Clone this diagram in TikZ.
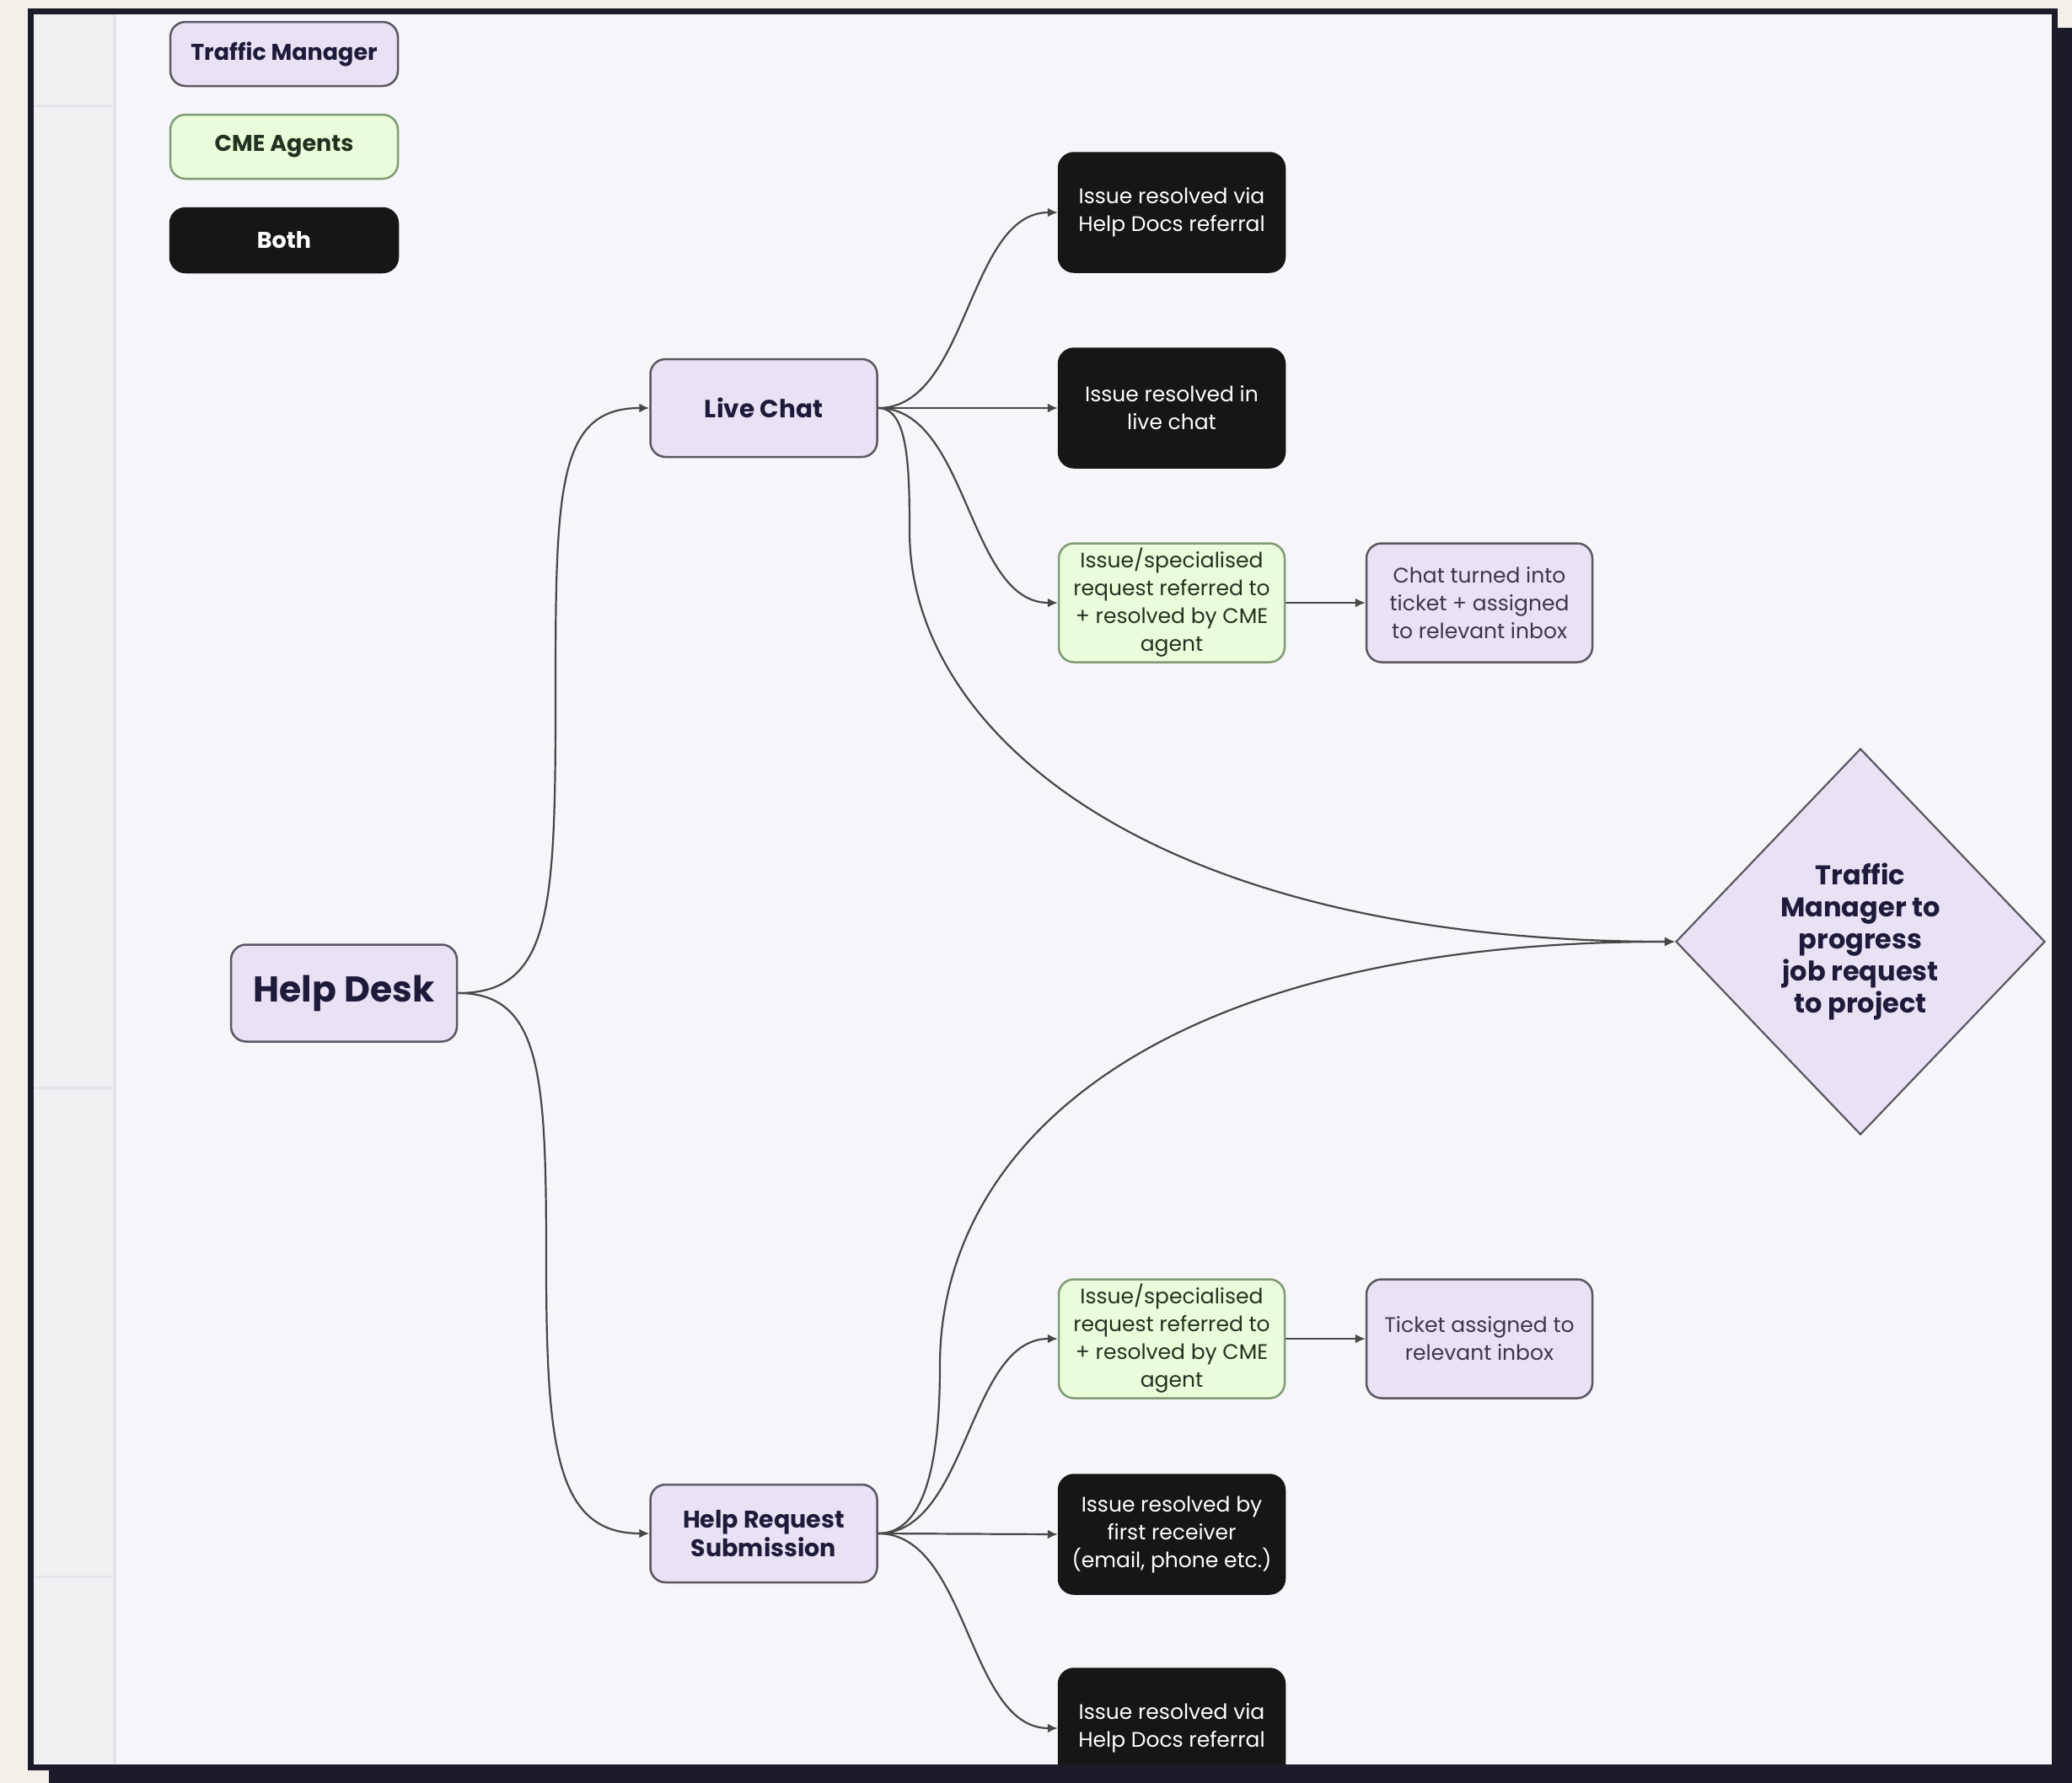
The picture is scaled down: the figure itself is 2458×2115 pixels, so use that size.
\documentclass[tikz,border=0pt]{standalone}
\usepackage{fontspec}
\setmainfont{Poppins}
\usetikzlibrary{shapes.geometric,arrows.meta}
\definecolor{beige}{HTML}{F3EFE9}
\definecolor{shadowc}{HTML}{1C1B29}
\definecolor{panel}{HTML}{F6F6FA}
\definecolor{strip}{HTML}{F1F1F3}
\definecolor{stripline}{HTML}{E4E4EA}
\definecolor{lav}{HTML}{E9E1F4}
\definecolor{lavborder}{HTML}{5A5762}
\definecolor{grn}{HTML}{EAFCD9}
\definecolor{grnborder}{HTML}{7F9B74}
\definecolor{navy}{HTML}{1E1B3A}
\definecolor{grntext}{HTML}{1F3320}
\definecolor{blk}{HTML}{161616}
\definecolor{conn}{HTML}{474747}
\definecolor{graytext}{HTML}{3B3748}
\begin{document}
\begin{tikzpicture}[x=1pt,y=-1pt,
  box/.style={rounded corners=18pt, align=center, inner sep=0pt, line width=2.5pt},
  legendbox/.style={box, minimum width=270pt, minimum height=76pt, font=\fontsize{27}{32}\selectfont\bfseries},
  tmbox/.style={box, fill=lav, draw=lavborder, text=navy, minimum width=269pt, minimum height=116pt, font=\fontsize{28.5}{34}\selectfont\bfseries},
  resbox/.style={box, minimum width=268pt, minimum height=141pt, font=\fontsize{25}{33}\selectfont},
  blackbox/.style={resbox, fill=blk, draw=blk, text=white},
  greenbox/.style={resbox, fill=grn, draw=grnborder, text=grntext},
  lavbox/.style={resbox, fill=lav, draw=lavborder, text=graytext},
  link/.style={draw=conn, line width=2.2pt, -{Latex[length=12pt,width=11pt]}}
]
\useasboundingbox (0,0) rectangle (2458,2115);
% background, shadow and panel
\fill[beige] (0,0) rectangle (2458,2115);
\fill[shadowc] (58,33) rectangle (2458,2115);
\filldraw[fill=panel, draw=shadowc, line width=7pt] (36.5,13) rectangle (2437,2096);
\fill[strip] (40,17) rectangle (134,2092);
\draw[stripline, line width=4pt] (136,17) -- (136,2092);
\draw[stripline, line width=3pt] (40,125) -- (134,125);
\draw[stripline, line width=3pt] (40,1290) -- (134,1290);
\draw[stripline, line width=3pt] (40,1870) -- (134,1870);

% legend
\node[legendbox, fill=lav, draw=lavborder, text=navy] (lgtm) at (337,64) {Traffic Manager};
\node[legendbox, fill=grn, draw=grnborder, text=grntext] (lgcme) at (337,174) {CME Agents};
\node[legendbox, fill=blk, draw=blk, text=white] (lgboth) at (337,285) {Both};

% main nodes
\node[tmbox, minimum width=268pt, minimum height=115pt, font=\fontsize{42.5}{48}\selectfont\bfseries] (hd) at (408,1178) {Help Desk};
\node[tmbox, font=\fontsize{29.5}{34}\selectfont\bfseries] (lc) at (906,484) {Live Chat};
\node[tmbox] (hr) at (906,1819) {Help Request\\Submission};

\node[blackbox] (b1) at (1390,252) {Issue resolved via\\Help Docs referral};
\node[blackbox] (b2) at (1390,484) {Issue resolved in\\live chat};
\node[greenbox] (b3) at (1390,715) {Issue/specialised\\request referred to\\+ resolved by CME\\agent};
\node[lavbox] (b4) at (1755,715) {Chat turned into\\ticket + assigned\\to relevant inbox};
\node[greenbox] (b5) at (1390,1588) {Issue/specialised\\request referred to\\+ resolved by CME\\agent};
\node[lavbox] (b6) at (1755,1588) {Ticket assigned to\\relevant inbox};
\node[blackbox] (b7) at (1390,1820) {Issue resolved by\\first receiver\\(email, phone etc.)};
\begin{scope}
\clip (40,17) rectangle (2433,2092);
\node[blackbox] (b8) at (1390,2050) {Issue resolved via\\Help Docs referral};
\end{scope}

\node[diamond, fill=lav, draw=lavborder, line width=2.2pt, minimum width=438pt, minimum height=458pt, inner sep=0pt, align=center, text=navy, font=\fontsize{32}{38}\selectfont\bfseries] (tm) at (2207,1117) {Traffic\\Manager to\\progress\\job request\\to project};

% waypoints
\coordinate (w1) at (1079,630);
\coordinate (w2) at (1115,1620);
\coordinate (wa) at (659,831);
\coordinate (wb) at (648,1498);

% connectors
\draw[link] (hd.east) .. controls +(110,0) and +(0,250) .. (wa) .. controls +(0,-250) and +(-110,0) .. (lc.west);
\draw[link] (hd.east) .. controls +(100,0) and +(0,-220) .. (wb) .. controls +(0,220) and +(-110,0) .. (hr.west);
\draw[link] (lc.east) .. controls +(107,0) and +(-107,0) .. (b1.west);
\draw[link] (lc.east) -- (b2.west);
\draw[link] (lc.east) .. controls +(107,0) and +(-107,0) .. (b3.west);
\draw[link] (b3.east) -- (b4.west);
\draw[link] (lc.east) .. controls +(35,0) and +(0,-80) .. (w1) .. controls +(0,240) and +(-620,0) .. (tm.west);
\draw[link] (hr.east) .. controls +(60,0) and +(0,100) .. (w2) .. controls +(0,-260) and +(-620,0) .. (tm.west);
\draw[link] (hr.east) .. controls +(107,0) and +(-107,0) .. (b5.west);
\draw[link] (b5.east) -- (b6.west);
\draw[link] (hr.east) -- (b7.west);
\draw[link] (hr.east) .. controls +(107,0) and +(-107,0) .. (b8.west);
\end{tikzpicture}
\end{document}
